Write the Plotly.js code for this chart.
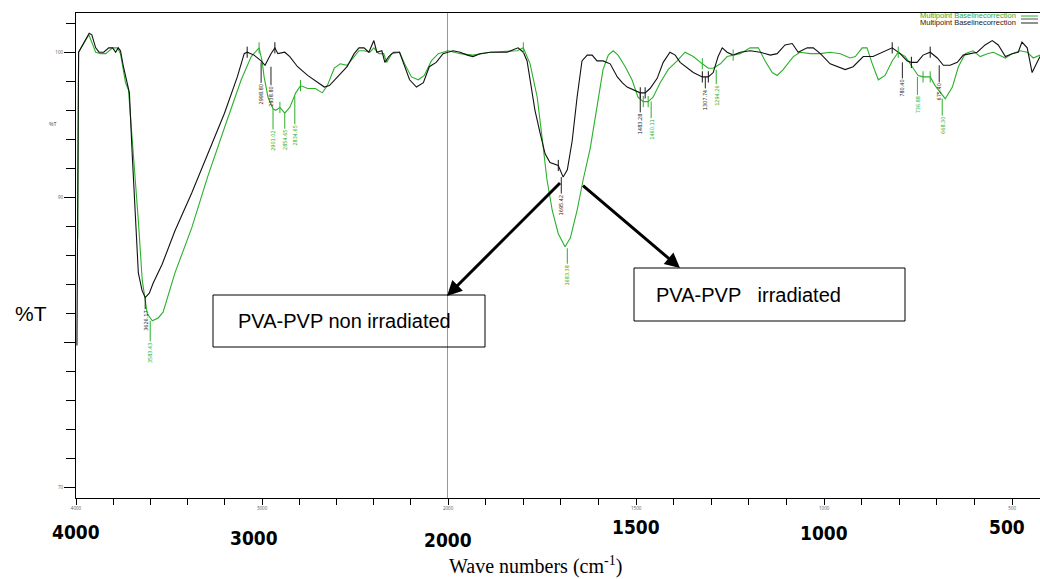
<!DOCTYPE html>
<html>
<head>
<meta charset="utf-8">
<script src="https://cdn.plot.ly/plotly-3.0.1.min.js"></script>
<style>html,body{margin:0;padding:0;background:#fff}#chart{width:1040px;height:579px}</style>
</head>
<body>
<div id="chart"></div>
<script>
// ---- data ----
const blackWn = [3995,3986,3929,3915,3894,3876,3851,3824,3803,3787,3773,3761,3745,3723,3713,3698,3681,3665,3645,3628,3606,3585,3537,3468,3378,3293,3202,3133,3096,3080,3043,3005,2984,2952,2931,2915,2878,2851,2809,2755,2702,2665,2638,2596,2543,2505,2479,2452,2426,2399,2383,2356,2340,2319,2293,2261,2234,2207,2170,2133,2101,2064,2027,2000,1987,1968,1949,1934,1915,1888,1843,1814,1800,1790,1782,1769,1755,1742,1729,1715,1707,1694,1683,1670,1657,1644,1630,1617,1604,1588,1569,1550,1537,1524,1508,1489,1476,1463,1444,1428,1410,1396,1383,1364,1348,1324,1308,1295,1282,1271,1258,1242,1223,1197,1170,1143,1125,1104,1085,1069,1045,1029,1010,984,957,944,923,896,870,843,819,798,779,768,753,737,718,699,683,665,646,630,611,593,572,553,537,518,500,484,474,460,447,434,426];
const blackT = [79.8,100.0,101.3,101.2,100.3,100.0,100.0,100.3,100.3,100.0,100.3,100.1,99.0,97.9,97.2,93.0,88.4,84.8,83.6,83.1,83.4,84.1,85.4,87.7,90.3,93.0,95.8,98.3,99.9,100.0,99.8,99.4,99.1,99.9,100.3,99.9,100.0,99.7,99.0,98.4,97.9,97.6,97.7,98.3,99.0,99.9,100.3,100.3,100.0,100.8,100.0,100.1,99.3,99.7,100.0,100.0,99.0,98.1,97.6,97.9,99.0,99.3,99.9,100.0,100.1,100.0,99.8,99.7,99.9,100.0,100.0,100.3,100.0,99.4,98.1,96.0,94.4,93.0,92.4,92.3,92.2,91.4,91.9,93.9,96.9,99.4,99.8,99.8,99.4,99.4,99.2,98.3,97.9,97.6,97.4,97.2,97.2,97.5,98.2,99.3,100.0,99.8,99.3,98.9,98.6,98.3,98.3,98.6,99.7,100.3,100.0,99.8,100.0,100.1,100.0,99.8,99.9,100.5,100.6,100.0,100.3,100.3,99.9,99.2,98.9,98.8,99.0,99.7,99.7,100.0,100.3,99.9,99.4,99.3,99.3,99.8,100.0,99.6,99.1,99.1,99.3,99.8,99.9,100.0,100.5,100.8,100.5,99.7,99.9,100.0,100.7,100.3,98.6,99.3,99.7];
const greenWn = [3991,3986,3931,3894,3867,3840,3803,3777,3761,3734,3718,3691,3665,3644,3617,3590,3558,3532,3468,3378,3293,3202,3112,3058,3032,3016,3000,2989,2968,2941,2926,2904,2878,2851,2819,2793,2755,2713,2676,2649,2612,2580,2543,2505,2479,2452,2420,2399,2372,2346,2330,2303,2261,2234,2197,2160,2128,2090,2053,2000,1968,1934,1915,1888,1816,1800,1782,1763,1750,1737,1723,1707,1689,1675,1657,1641,1622,1604,1588,1574,1561,1548,1529,1511,1495,1481,1468,1455,1436,1415,1391,1370,1348,1324,1308,1295,1276,1258,1242,1223,1197,1175,1157,1138,1125,1109,1082,1064,1037,1010,984,957,931,917,899,886,872,856,838,819,803,784,766,750,737,718,705,691,678,659,643,625,604,585,566,550,532,518,500,478,460,444,426];
const greenT = [87.2,100.0,101.2,100.0,99.9,99.9,100.3,100.3,99.9,97.9,97.4,93.0,88.4,84.3,82.0,81.5,81.7,82.1,84.8,87.9,91.4,94.8,98.1,99.7,100.1,100.3,99.4,98.3,96.9,96.1,96.0,96.2,95.8,96.2,97.2,97.7,97.5,97.5,97.2,97.7,98.9,99.2,99.1,99.7,100.1,100.1,100.0,100.3,99.9,99.9,99.3,99.9,100.0,99.2,98.3,98.1,98.4,99.4,99.9,100.1,99.9,99.8,99.9,100.0,100.1,100.3,99.2,96.9,94.1,91.2,89.1,87.5,86.6,87.2,89.1,91.2,93.4,96.2,98.8,99.8,100.1,99.8,99.0,98.1,96.9,96.6,96.6,96.9,97.9,98.8,99.4,100.0,99.7,99.2,98.9,98.9,99.2,99.7,99.8,99.9,100.3,100.3,99.4,98.6,98.4,98.8,99.7,100.0,99.9,99.9,100.0,99.9,99.6,99.7,100.3,100.3,99.2,98.1,98.4,99.4,100.0,99.7,99.0,98.4,98.3,98.3,97.7,97.2,96.8,97.6,99.0,99.9,100.1,99.7,99.9,100.0,99.8,99.6,99.9,100.1,100.0,99.6,99.8];

// peak labels: wavenumber, %T at the peak, label text
const blackPeakWn   = [3628, 3005, 2952, 1699, 1489, 1316, 792, 694];
const blackPeakT    = [83.1, 99.3, 99.0, 91.4, 97.2, 98.3, 99.3, 99.1];
const blackPeakText = ["3626.17","2998.80","2938.80","1695.42","1483.28","1307.74","780.40","675.40"];
const greenPeakWn   = [3601, 2941, 2878, 2824, 1683, 1460, 1287, 752, 686];
const greenPeakT    = [81.5, 96.1, 95.8, 97.0, 86.5, 96.6, 98.8, 98.3, 96.8];
const greenPeakText = ["3583.43","2901.02","2854.65","2834.65","1683.38","1460.11","1294.26","736.88","668.30"];

// small peak-pick marks on the curves
const blackMarkWn = [3080, 2931, 1707, 1489, 1476, 1324, 1308, 819, 768, 718];
const blackMarkT  = [100.0, 100.3, 92.2, 97.2, 97.2, 98.3, 98.3, 100.3, 99.3, 100.0];
const greenMarkWn = [3016, 2904, 2793, 1800, 1481, 1468, 1324, 1242, 803, 737, 718];
const greenMarkT  = [100.3, 96.2, 97.7, 100.3, 96.6, 96.6, 99.2, 99.8, 100.0, 98.3, 98.3];

const bigTickLabels = ["4000","3000","2000","1500","1000","500"];
const bigTickValues = [4000, 3000, 2000, 1500, 1000, 500];
const legendText = "Multipoint Baselinecorrection";
const boxText1 = "PVA-PVP non irradiated";
const boxText2 = "PVA-PVP   irradiated";

// ---- build ----
const GREEN = "#2ab02a", BLACK = "#111111";
const px = x => (x - 76) / 964, py = y => (498 - y) / 485;
function split(wn, t, hi) {
  const xs = [], ys = [];
  wn.forEach((w, i) => { if (hi ? w >= 2000 : w <= 2000) { xs.push(w); ys.push(t[i]); } });
  return [xs, ys];
}
const traces = [];
[[greenWn, greenT, GREEN], [blackWn, blackT, BLACK]].forEach(([wn, t, c]) => {
  const a = split(wn, t, true), b = split(wn, t, false);
  traces.push({x: a[0], y: a[1], xaxis: "x", yaxis: "y", mode: "lines", line: {color: c, width: 1.1}, hoverinfo: "skip"});
  traces.push({x: b[0], y: b[1], xaxis: "x2", yaxis: "y", mode: "lines", line: {color: c, width: 1.1}, hoverinfo: "skip"});
});
[[blackMarkWn, blackMarkT, BLACK], [greenMarkWn, greenMarkT, GREEN]].forEach(([wn, t, c]) => {
  const a = split(wn, t, true), b = split(wn, t, false);
  [[a, "x"], [b, "x2"]].forEach(([d, ax]) => traces.push({
    x: d[0], y: d[1], xaxis: ax, yaxis: "y", mode: "markers",
    marker: {symbol: "line-ns", size: 8, line: {color: c, width: 1}}, hoverinfo: "skip"}));
});

const annotations = [];
const peakOffsets = {
  "3626.17": 23, "2998.80": 32, "2938.80": 30, "1695.42": 28, "1483.28": 31, "1307.74": 23, "780.40": 26, "675.40": 27,
  "3583.43": 32, "2901.02": 32, "2854.65": 27, "2834.65": 40, "1683.38": 27, "1460.11": 28, "1294.26": 26, "736.88": 28, "668.30": 27
};
[[blackPeakWn, blackPeakT, blackPeakText, "#222"], [greenPeakWn, greenPeakT, greenPeakText, GREEN]].forEach(([wn, t, txt, c]) => {
  wn.forEach((w, i) => annotations.push({
    x: w, y: t[i], xref: w >= 2000 ? "x" : "x2", yref: "y",
    text: txt[i], textangle: -90, font: {size: 5.5, color: c, family: "DejaVu Sans Condensed, Liberation Sans, Arial"},
    showarrow: true, arrowhead: 0, arrowwidth: 1, arrowcolor: c, ax: 0, ay: peakOffsets[txt[i]], standoff: 0
  }));
});
const bigY = [532, 538, 540, 527, 533, 527];
const bigShift = [0, -8, 0, 0, 0, -5];
bigTickValues.forEach((v, i) => annotations.push({
  x: v, xref: v >= 2000 ? "x" : "x2", y: py(bigY[i]), yref: "paper",
  text: bigTickLabels[i], showarrow: false, xshift: bigShift[i], xanchor: "center", yanchor: "middle",
  font: {size: 19, color: "#000", family: "DejaVu Sans Condensed, Liberation Sans, Arial", weight: 700}
}));
annotations.push({x: px(535), y: py(565), xref: "paper", yref: "paper", showarrow: false, xanchor: "center", yanchor: "middle",
  text: "Wave numbers (cm<sup>-1</sup>)", font: {size: 20, color: "#000", family: "Liberation Serif, Times New Roman, serif"}});
annotations.push({x: px(31), y: py(313), xref: "paper", yref: "paper", showarrow: false, xanchor: "center", yanchor: "middle",
  text: "%T", font: {size: 21, color: "#000", family: "Liberation Sans, Arial"}});
annotations.push({x: px(53), y: py(124), xref: "paper", yref: "paper", showarrow: false, xanchor: "center", yanchor: "middle",
  text: "%T", font: {size: 5, color: "#444", family: "Liberation Sans, Arial"}});
// legend as text
annotations.push({x: px(1018), y: py(16), xref: "paper", yref: "paper", showarrow: false, text: legendText,
  xanchor: "right", yanchor: "middle", font: {size: 7.5, color: GREEN, family: "Liberation Sans, Arial"}});
annotations.push({x: px(1018), y: py(22.5), xref: "paper", yref: "paper", showarrow: false, text: legendText,
  xanchor: "right", yanchor: "middle", font: {size: 7.5, color: "#222", family: "Liberation Sans, Arial"}});
// box texts
annotations.push({x: px(344), y: py(321), xref: "paper", yref: "paper", showarrow: false, xanchor: "center", yanchor: "middle",
  text: boxText1, font: {size: 20, color: "#000", family: "Liberation Sans, Arial"}});
annotations.push({x: px(748), y: py(295), xref: "paper", yref: "paper", showarrow: false, xanchor: "center", yanchor: "middle",
  text: boxText2, font: {size: 20, color: "#000", family: "Liberation Sans, Arial"}});
// arrows
annotations.push({x: px(447), y: py(296), xref: "paper", yref: "paper", text: " ",
  showarrow: true, arrowhead: 2, arrowsize: 1, arrowwidth: 3, arrowcolor: "#000", ax: 116, ay: -116, standoff: 0});
annotations.push({x: px(680), y: py(268), xref: "paper", yref: "paper", text: " ",
  showarrow: true, arrowhead: 2, arrowsize: 1, arrowwidth: 3, arrowcolor: "#000", ax: -100, ay: -85, standoff: 0});

const shapes = [
  {type: "line", xref: "x", yref: "paper", x0: 2000, x1: 2000, y0: 0, y1: 1, line: {color: "#000", width: 1}},
  {type: "rect", xref: "paper", yref: "paper", x0: px(213), x1: px(485), y0: py(347), y1: py(295), line: {color: "#000", width: 1}},
  {type: "rect", xref: "paper", yref: "paper", x0: px(634), x1: px(905), y0: py(321), y1: py(268), line: {color: "#000", width: 1}},
  {type: "line", xref: "paper", yref: "paper", x0: px(1021), x1: px(1038), y0: py(16), y1: py(16), line: {color: GREEN, width: 1}},
  {type: "line", xref: "paper", yref: "paper", x0: px(1021), x1: px(1038), y0: py(19), y1: py(19), line: {color: "#555", width: 1}},
  {type: "line", xref: "paper", yref: "paper", x0: px(1021), x1: px(1038), y0: py(23), y1: py(23), line: {color: "#222", width: 1}}
];

function ticks(from, to, step, labelled) {
  const v = [], t = [];
  for (let x = from; x >= to; x -= step) { v.push(x); t.push(labelled.includes(x) ? String(x) : ""); }
  return [v, t];
}
const t1 = ticks(4000, 2000, 200, [4000, 3000, 2000]);
const t2 = ticks(1900, 500, 100, [1500, 1000, 500]);
const xCommon = {showline: true, mirror: true, linecolor: "#000", linewidth: 1, ticks: "outside", ticklen: 6,
  tickcolor: "#000", tickfont: {size: 4.5, color: "#555"}, showgrid: false, zeroline: false, tickmode: "array", anchor: "y"};

const layout = {
  width: 1040, height: 579,
  margin: {l: 76, r: 0, t: 13, b: 81},
  paper_bgcolor: "#fff", plot_bgcolor: "#fff",
  showlegend: false,
  xaxis: Object.assign({}, xCommon, {domain: [0, 0.386], range: [4000, 2000], tickvals: t1[0], ticktext: t1[1]}),
  xaxis2: Object.assign({}, xCommon, {domain: [0.386, 1], range: [2000, 426], tickvals: t2[0], ticktext: t2[1]}),
  yaxis: {range: [69.3, 102.7], showline: true, linecolor: "#000", linewidth: 1, ticks: "outside", ticklen: 11,
    tickcolor: "#000", tickmode: "array", tickvals: [70, 80, 90, 100], ticktext: ["70", "", "90", "100"],
    tickfont: {size: 4.5, color: "#555"}, showgrid: false, zeroline: false,
    minor: {dtick: 2, tick0: 70, ticks: "outside", ticklen: 9, tickcolor: "#000", showgrid: false}},
  annotations: annotations,
  shapes: shapes
};
Plotly.newPlot("chart", traces, layout, {displayModeBar: false, staticPlot: true});
</script>
</body>
</html>
